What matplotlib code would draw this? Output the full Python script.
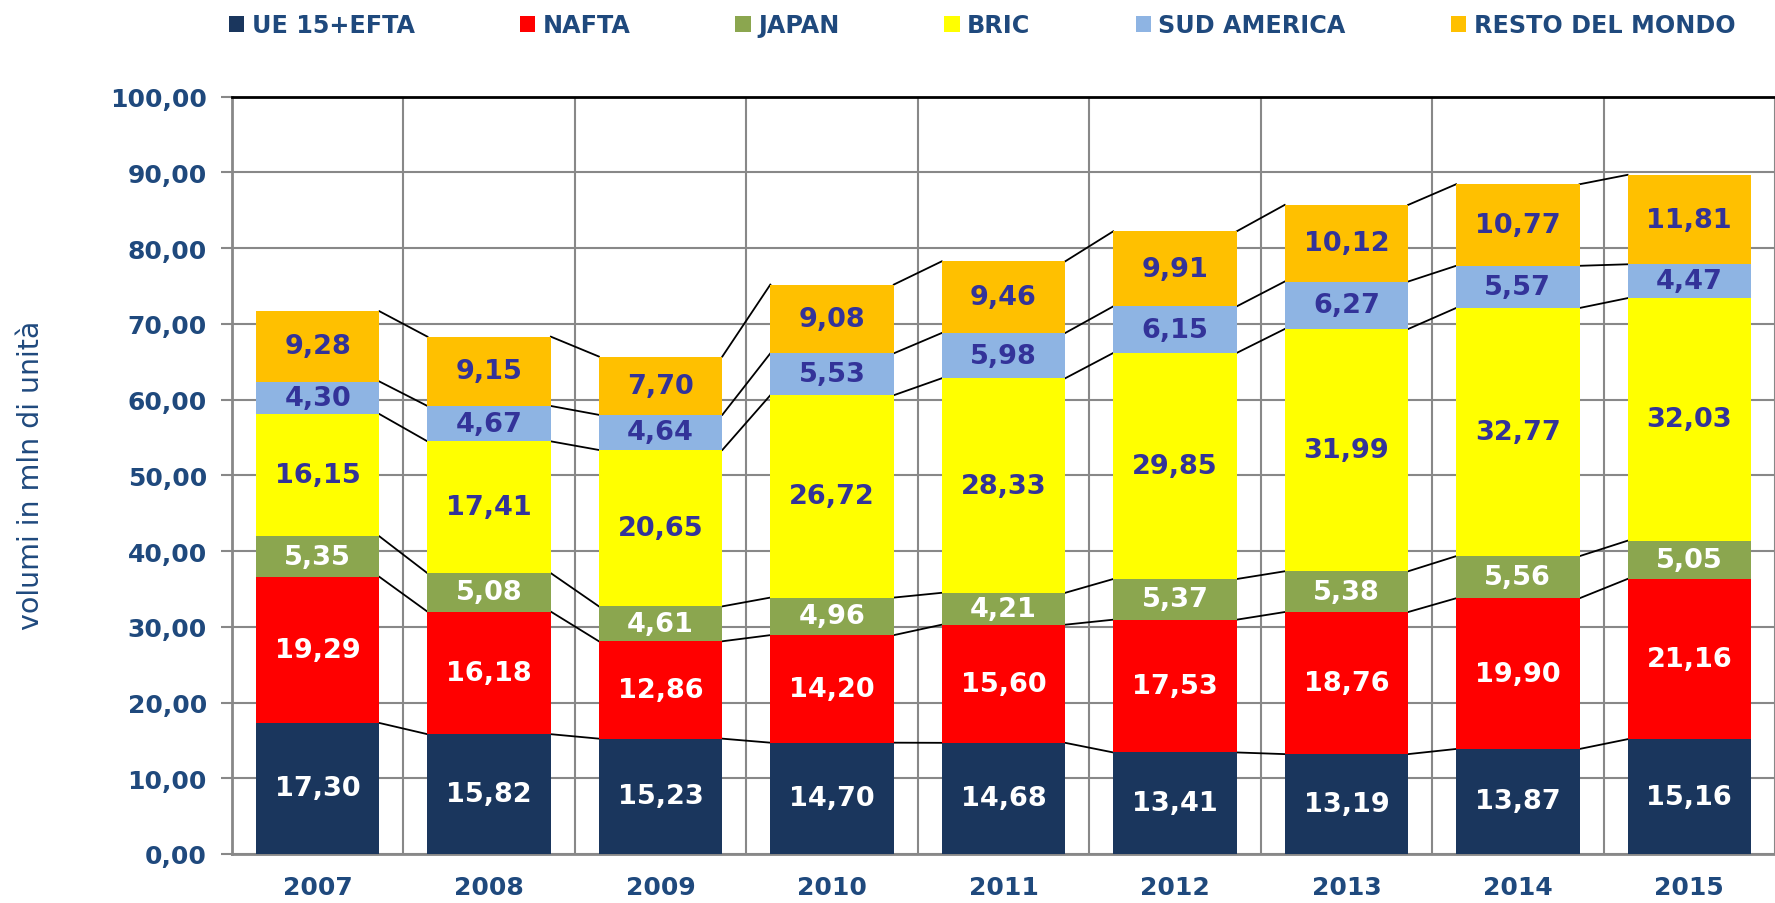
import matplotlib
matplotlib.use("Agg")
import matplotlib.pyplot as plt
import numpy as np
from matplotlib.patches import Patch

years = ["2007", "2008", "2009", "2010", "2011", "2012", "2013", "2014", "2015"]
series_names = ["UE 15+EFTA", "NAFTA", "JAPAN", "BRIC", "SUD AMERICA", "RESTO DEL MONDO"]

ue = [17.30, 15.82, 15.23, 14.70, 14.68, 13.41, 13.19, 13.87, 15.16]
nafta = [19.29, 16.18, 12.86, 14.20, 15.60, 17.53, 18.76, 19.90, 21.16]
japan = [5.35, 5.08, 4.61, 4.96, 4.21, 5.37, 5.38, 5.56, 5.05]
bric = [16.15, 17.41, 20.65, 26.72, 28.33, 29.85, 31.99, 32.77, 32.03]
sud = [4.30, 4.67, 4.64, 5.53, 5.98, 6.15, 6.27, 5.57, 4.47]
resto = [9.28, 9.15, 7.70, 9.08, 9.46, 9.91, 10.12, 10.77, 11.81]

colors = ["#1A365D", "#FF0000", "#8BA64F", "#FFFF00", "#8EB4E3", "#FFC000"]
label_colors = ["white", "white", "white", "#333399", "#333399", "#333399"]
text_blue = "#1F497D"

data = [ue, nafta, japan, bric, sud, resto]
x = np.arange(len(years))
w = 0.72

fig = plt.figure(figsize=(17.75, 9.04), dpi=100)
ax = fig.add_axes([232 / 1775, 1 - 855 / 904, 1 - 232 / 1775, (855 - 97.7) / 904])

bottom = np.zeros(len(years))
levels = []
for vals, col, lc in zip(data, colors, label_colors):
    vals = np.array(vals)
    ax.bar(x, vals, w, bottom=bottom, color=col, zorder=3)
    for xi, b, v in zip(x, bottom, vals):
        ax.text(xi, b + v / 2, f"{v:.2f}".replace(".", ","), ha="center", va="center",
                color=lc, fontsize=19.5, fontweight="bold", zorder=4)
    bottom = bottom + vals
    levels.append(bottom.copy())

# connector lines between stacked segments
for lev in levels:
    for i in range(len(years) - 1):
        ax.plot([x[i] + w / 2, x[i + 1] - w / 2], [lev[i], lev[i + 1]],
                color="black", lw=1.3, zorder=2)

ax.set_ylim(0, 100)
ax.set_xlim(-0.5, -0.5 + (1775 - 232) / 173)
ax.set_yticks(np.arange(0, 101, 10))
ax.set_yticklabels([f"{v:.2f}".replace(".", ",") for v in np.arange(0, 101, 10)])
ax.set_xticks(x)
ax.set_xticklabels(years)
ax.set_xticks(np.arange(-0.5, len(years), 1), minor=True)

ax.grid(axis="y", color="#888888", lw=1.5, zorder=0)
ax.grid(axis="x", which="minor", color="#888888", lw=1.5, zorder=0)
ax.tick_params(axis="y", colors="#888888", length=8, width=1.5, labelcolor=text_blue,
               labelsize=18, pad=10)
ax.tick_params(axis="x", which="both", length=0, labelcolor=text_blue, labelsize=18, pad=15)
for lab in ax.get_xticklabels() + ax.get_yticklabels():
    lab.set_fontweight("bold")

for s in ["left", "bottom"]:
    ax.spines[s].set_color("#888888")
    ax.spines[s].set_linewidth(2)
ax.spines["top"].set_color("black")
ax.spines["top"].set_linewidth(2)
ax.spines["right"].set_visible(False)

fig.text(31 / 1775, 1 - 475 / 904, "volumi in mln di unità", rotation=90, ha="center",
         va="center", color=text_blue, fontsize=20.5)

handles = [Patch(facecolor=c, edgecolor="none") for c in colors]
leg = fig.legend(handles, series_names, loc="center", bbox_to_anchor=(982 / 1775, 1 - 26 / 904),
                 ncol=6, frameon=False, handlelength=0.65, handleheight=0.65,
                 handletextpad=0.3, columnspacing=4.4,
                 prop={"size": 17.2, "weight": "bold"})
for t in leg.get_texts():
    t.set_color(text_blue)

fig.savefig("out.png", dpi=100)
